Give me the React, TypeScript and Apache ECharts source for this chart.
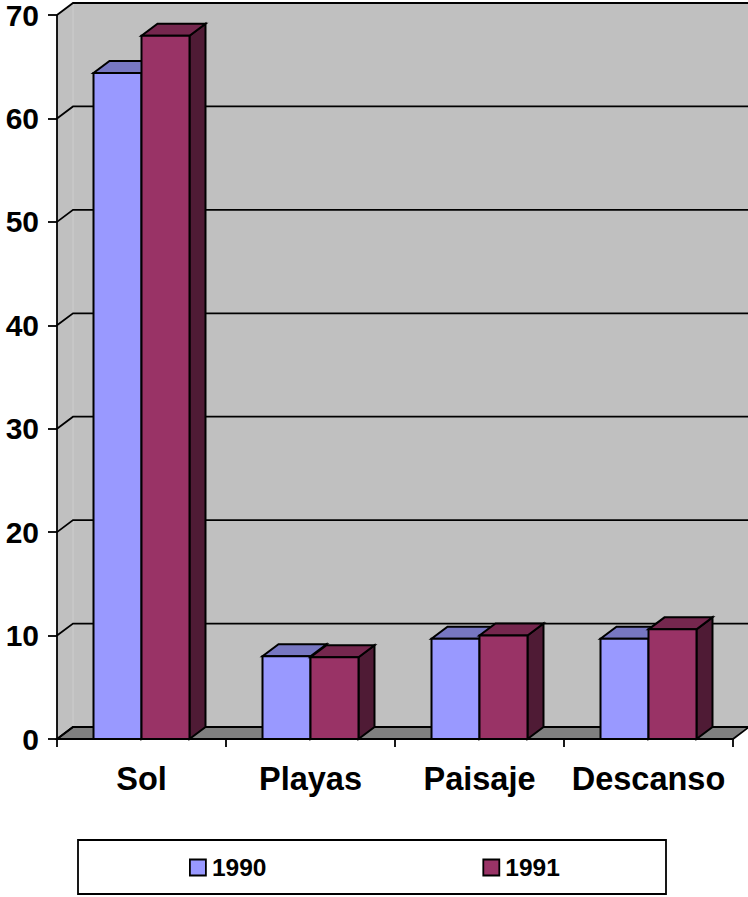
import React, { useEffect, useRef } from "react";
import * as echarts from "echarts";

const categories = ["Sol", "Playas", "Paisaje", "Descanso"];
const values1990 = [64.4, 8.0, 9.7, 9.7];
const values1991 = [68.0, 7.9, 10.0, 10.6];
const yTicks = [0, 10, 20, 30, 40, 50, 60, 70];
const seriesNames = ["1990", "1991"];

const DX = 16;
const DY = -12;
const FONT = '"Liberation Sans", Arial, sans-serif';
const BLACK = "#000000";

const shades = [
  { front: "#9999ff", top: "#7777c2", side: "#55558f" },
  { front: "#993366", top: "#75274e", side: "#4f1b35" },
];

function wallItem(params: any, api: any) {
  const cs = params.coordSys;
  const x0 = cs.x;
  const x1 = cs.x + cs.width;
  const y0 = api.coord([0, 0])[1];
  const yT = api.coord([0, 70])[1];
  const line = { stroke: BLACK, lineWidth: 1.8, fill: "none" };
  const children: any[] = [
    { type: "polygon", shape: { points: [[x0, y0], [x0 + DX, y0 + DY], [x0 + DX, yT + DY], [x0, yT]] }, style: { fill: "#c0c0c0", stroke: "none" } },
    { type: "polygon", shape: { points: [[x0 + DX, y0 + DY], [x1 + DX, y0 + DY], [x1 + DX, yT + DY], [x0 + DX, yT + DY]] }, style: { fill: "#c0c0c0", stroke: "none" } },
    { type: "line", shape: { x1: x0 + DX, y1: yT + DY, x2: x0 + DX, y2: y0 + DY }, style: { stroke: "#cdcdcd", lineWidth: 1 } },
    { type: "polygon", shape: { points: [[x0, y0], [x1, y0], [x1 + DX, y0 + DY], [x0 + DX, y0 + DY]] }, style: { fill: "#808080", stroke: BLACK, lineWidth: 1.8 } },
    { type: "line", shape: { x1: x0, y1: yT, x2: x0, y2: y0 }, style: { stroke: BLACK, lineWidth: 1.8 } },
  ];
  yTicks.forEach((t) => {
    const y = api.coord([0, t])[1];
    children.push({
      type: "polyline",
      shape: { points: [[x0, y], [x0 + DX, y + DY], [x1 + DX, y + DY]] },
      style: line,
    });
  });
  return { type: "group", children };
}

function barItem(seriesIndex: number) {
  return (_params: any, api: any) => {
    const cat = api.value(0);
    const val = api.value(1);
    const top = api.coord([cat, val]);
    const base = api.coord([cat, 0]);
    const band = api.size([1, 0])[0];
    const w = band * 0.284;
    const xl = top[0] + (seriesIndex === 0 ? -w : 0);
    const xr = xl + w;
    const yt = top[1];
    const yb = base[1];
    const s = shades[seriesIndex];
    const border = { stroke: BLACK, lineWidth: 2, lineJoin: "miter" };
    return {
      type: "group",
      children: [
        { type: "polygon", shape: { points: [[xr, yb], [xr + DX, yb + DY], [xr + DX, yt + DY], [xr, yt]] }, style: { fill: s.side, ...border } },
        { type: "polygon", shape: { points: [[xl, yt], [xr, yt], [xr + DX, yt + DY], [xl + DX, yt + DY]] }, style: { fill: s.top, ...border } },
        { type: "rect", shape: { x: xl, y: yt, width: w, height: yb - yt }, style: { fill: s.front, ...border } },
      ],
    };
  };
}

export default function App() {
  const ref = useRef<HTMLDivElement>(null);
  useEffect(() => {
    const chart = echarts.init(ref.current!, undefined, { renderer: "svg" });
    chart.setOption({
      animation: false,
      backgroundColor: "#ffffff",
      grid: { left: 57, right: 15, top: 15, bottom: 158 },
      xAxis: {
        type: "category",
        data: categories,
        boundaryGap: true,
        axisLine: { show: true, onZero: false, lineStyle: { color: BLACK, width: 1.8 } },
        axisTick: { show: true, alignWithLabel: false, length: 8, lineStyle: { color: BLACK, width: 1.8 } },
        axisLabel: { color: BLACK, fontFamily: FONT, fontWeight: "bold", fontSize: 32.5, margin: 23, interval: 0 },
        z: 5,
      },
      yAxis: {
        type: "value",
        min: 0,
        max: 70,
        interval: 10,
        splitLine: { show: false },
        axisLine: { show: false },
        axisTick: { show: true, length: 9, lineStyle: { color: BLACK, width: 1.8 } },
        axisLabel: { color: BLACK, fontFamily: FONT, fontWeight: "bold", fontSize: 30, margin: 18 },
      },
      legend: {
        left: 189,
        top: 855,
        padding: 0,
        itemWidth: 16,
        itemHeight: 16,
        itemGap: 216,
        data: seriesNames.map((name, i) => ({
          name,
          icon: "rect",
          itemStyle: { color: shades[i].front, borderColor: BLACK, borderWidth: 1.8 },
        })),
        textStyle: { color: BLACK, fontFamily: FONT, fontWeight: "bold", fontSize: 24.5, padding: [0, 0, 0, 1] },
      },
      graphic: [
        {
          type: "rect",
          z: -1,
          shape: { x: 78, y: 840, width: 588, height: 54 },
          style: { fill: "#ffffff", stroke: BLACK, lineWidth: 1.8 },
        },
      ],
      series: [
        { type: "custom", name: "walls", silent: true, clip: false, z: 1, renderItem: wallItem, data: [[0, 0]], encode: { x: 0, y: 1 } },
        {
          type: "custom", name: seriesNames[0], clip: false, z: 2, renderItem: barItem(0),
          itemStyle: { color: shades[0].front },
          data: values1990.map((v, i) => [i, v]), encode: { x: 0, y: 1 },
        },
        {
          type: "custom", name: seriesNames[1], clip: false, z: 3, renderItem: barItem(1),
          itemStyle: { color: shades[1].front },
          data: values1991.map((v, i) => [i, v]), encode: { x: 0, y: 1 },
        },
      ],
    });
    return () => chart.dispose();
  }, []);
  return <div ref={ref} style={{ position: "absolute", left: 0, top: 0, width: 748, height: 897 }} />;
}
